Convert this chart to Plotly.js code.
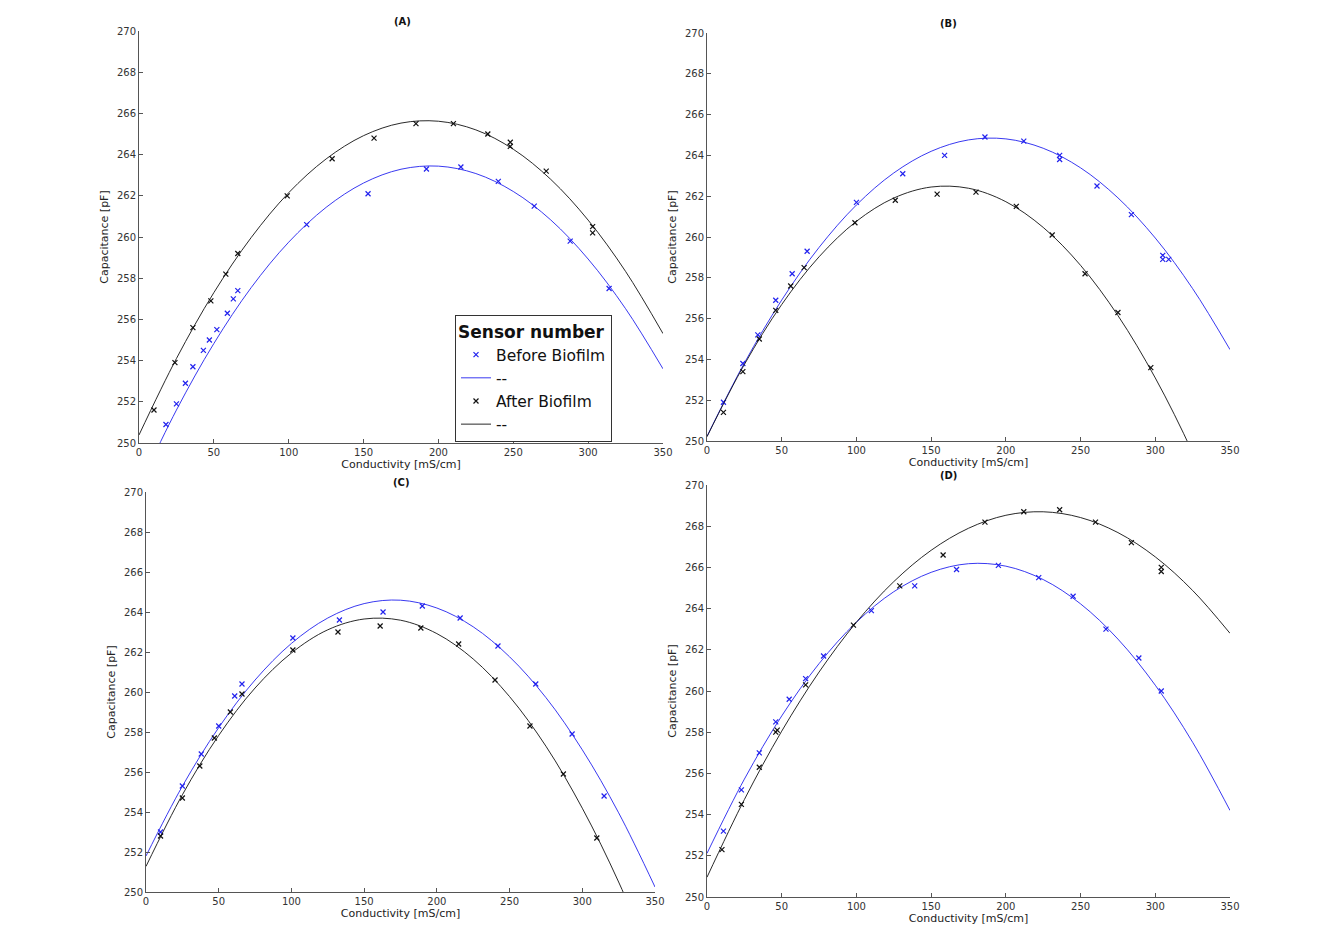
<!DOCTYPE html>
<html>
<head>
<meta charset="utf-8">
<script src="https://cdn.plot.ly/plotly-3.0.1.min.js"></script>
<style>body{margin:0;background:#fff}#chart{width:1340px;height:944px}</style>
</head>
<body>
<div id="chart"></div>
<script>
// fitted curve samples
const curveX = [0, 25, 50, 75, 100, 125, 150, 175, 200, 225, 250, 275, 300, 325, 350];

const aBeforeFit = [247.86, 251.60, 254.83, 257.55, 259.75, 261.44, 262.62, 263.29, 263.44, 263.08, 262.21, 260.83, 258.93, 256.52, 253.60];
const aAfterFit = [250.39, 254.10, 257.30, 259.98, 262.15, 263.79, 264.92, 265.53, 265.62, 265.20, 264.26, 262.80, 260.82, 258.33, 255.31];
const bBeforeFit = [250.23, 253.82, 256.91, 259.49, 261.57, 263.14, 264.20, 264.76, 264.81, 264.35, 263.39, 261.92, 259.95, 257.47, 254.48];
const bAfterFit = [250.21, 253.75, 256.69, 259.03, 260.77, 261.91, 262.45, 262.39, 261.73, 260.47, 258.61, 256.15, 253.09, 249.43, 245.17];
const cBeforeFit = [251.80, 255.29, 258.22, 260.60, 262.43, 263.70, 264.42, 264.59, 264.20, 263.26, 261.76, 259.72, 257.11, 253.96, 250.25];
const cAfterFit = [251.28, 254.86, 257.83, 260.20, 261.95, 263.11, 263.65, 263.59, 262.92, 261.65, 259.77, 257.29, 254.19, 250.50, 246.19];
const dBeforeFit = [252.12, 255.72, 258.79, 261.33, 263.34, 264.82, 265.76, 266.18, 266.06, 265.41, 264.23, 262.52, 260.28, 257.51, 254.20];
const dAfterFit = [250.96, 254.73, 258.05, 260.92, 263.34, 265.31, 266.83, 267.90, 268.53, 268.70, 268.42, 267.69, 266.51, 264.88, 262.80];

// measured points
const aBeforeX = [18, 25, 31, 36, 43, 47, 52, 59, 63, 66, 112, 153, 192, 215, 240, 264, 288, 314];
const aBeforeY = [250.9, 251.9, 252.9, 253.7, 254.5, 255.0, 255.5, 256.3, 257.0, 257.4, 260.6, 262.1, 263.3, 263.4, 262.7, 261.5, 259.8, 257.5];
const aAfterX = [10, 24, 36, 48, 58, 66, 99, 129, 157, 185, 210, 233, 248, 248, 272, 303, 303];
const aAfterY = [251.6, 253.9, 255.6, 256.9, 258.2, 259.2, 262.0, 263.8, 264.8, 265.5, 265.5, 265.0, 264.6, 264.4, 263.2, 260.5, 260.2];

const bBeforeX = [11, 24, 34, 46, 57, 67, 100, 131, 159, 186, 212, 236, 236, 261, 284, 305, 305, 309];
const bBeforeY = [251.9, 253.8, 255.2, 256.9, 258.2, 259.3, 261.7, 263.1, 264.0, 264.9, 264.7, 264.0, 263.8, 262.5, 261.1, 259.1, 258.9, 258.9];
const bAfterX = [11, 24, 35, 46, 56, 65, 99, 126, 154, 180, 207, 231, 253, 275, 297];
const bAfterY = [251.4, 253.4, 255.0, 256.4, 257.6, 258.5, 260.7, 261.8, 262.1, 262.2, 261.5, 260.1, 258.2, 256.3, 253.6];

const cBeforeX = [10, 25, 38, 50, 61, 66, 101, 133, 163, 190, 216, 242, 268, 293, 315];
const cBeforeY = [253.0, 255.3, 256.9, 258.3, 259.8, 260.4, 262.7, 263.6, 264.0, 264.3, 263.7, 262.3, 260.4, 257.9, 254.8];
const cAfterX = [10, 25, 37, 47, 58, 66, 101, 132, 161, 189, 215, 240, 264, 287, 310];
const cAfterY = [252.8, 254.7, 256.3, 257.7, 259.0, 259.9, 262.1, 263.0, 263.3, 263.2, 262.4, 260.6, 258.3, 255.9, 252.7];

const dBeforeX = [11, 23, 35, 46, 55, 66, 78, 110, 139, 167, 195, 222, 245, 267, 289, 304];
const dBeforeY = [253.2, 255.2, 257.0, 258.5, 259.6, 260.6, 261.7, 263.9, 265.1, 265.9, 266.1, 265.5, 264.6, 263.0, 261.6, 260.0];
const dAfterX = [10, 23, 35, 46, 47, 66, 98, 129, 158, 186, 212, 236, 260, 284, 304, 304];
const dAfterY = [252.3, 254.5, 256.3, 258.0, 258.1, 260.3, 263.2, 265.1, 266.6, 268.2, 268.7, 268.8, 268.2, 267.2, 266.0, 265.8];

const xTicks = [0, 50, 100, 150, 200, 250, 300, 350];
const yTicks = [250, 252, 254, 256, 258, 260, 262, 264, 266, 268, 270];
const panelTitles = ['(A)', '(B)', '(C)', '(D)'];

const BLUE = '#2222ee', BLACK = '#111111';
const W = 1340, H = 944;

const panels = [
  { bx: aBeforeX, by: aBeforeY, ax: aAfterX, ay: aAfterY, bf: aBeforeFit, af: aAfterFit, box: [139, 663, 31, 443] },
  { bx: bBeforeX, by: bBeforeY, ax: bAfterX, ay: bAfterY, bf: bBeforeFit, af: bAfterFit, box: [707, 1230, 33, 441] },
  { bx: cBeforeX, by: cBeforeY, ax: cAfterX, ay: cAfterY, bf: cBeforeFit, af: cAfterFit, box: [146, 655, 492, 892] },
  { bx: dBeforeX, by: dBeforeY, ax: dAfterX, ay: dAfterY, bf: dBeforeFit, af: dAfterFit, box: [707, 1230, 485, 897] }
];

const traces = [];
const layout = {
  width: W, height: H, margin: { l: 0, r: 0, t: 0, b: 0 },
  paper_bgcolor: '#fff', plot_bgcolor: '#fff',
  font: { family: 'DejaVu Sans, sans-serif', size: 10, color: '#222' },
  showlegend: true,
  legend: {
    x: 455 / W, y: 1 - 315 / H, xanchor: 'left', yanchor: 'top',
    bgcolor: '#fff', bordercolor: '#333', borderwidth: 1,
    font: { size: 15.5, color: '#111' },
    title: { text: '<b>Sensor number</b>', font: { size: 17 } },
    tracegroupgap: 0
  },
  annotations: []
};

panels.forEach((p, i) => {
  const n = i === 0 ? '' : String(i + 1);
  const xa = 'x' + n, ya = 'y' + n;
  const leg = i === 0;
  traces.push({ x: p.bx, y: p.by, xaxis: xa, yaxis: ya, mode: 'markers', type: 'scatter', name: 'Before Biofilm', showlegend: leg,
    marker: { symbol: 'x-thin', size: 5, line: { width: 1.2, color: BLUE }, color: BLUE } });
  traces.push({ x: curveX, y: p.bf, xaxis: xa, yaxis: ya, mode: 'lines', type: 'scatter', name: '--', showlegend: leg,
    line: { color: BLUE, width: 0.9, shape: 'spline' } });
  traces.push({ x: p.ax, y: p.ay, xaxis: xa, yaxis: ya, mode: 'markers', type: 'scatter', name: 'After Biofilm', showlegend: leg,
    marker: { symbol: 'x-thin', size: 5, line: { width: 1.2, color: BLACK }, color: BLACK } });
  traces.push({ x: curveX, y: p.af, xaxis: xa, yaxis: ya, mode: 'lines', type: 'scatter', name: '--', showlegend: leg,
    line: { color: BLACK, width: 0.9, shape: 'spline' } });

  const [x0, x1, yt, yb] = p.box;
  const common = { showgrid: false, zeroline: false, showline: true, linecolor: '#555', linewidth: 1,
    ticks: 'inside', ticklen: 4, tickcolor: '#555', tickfont: { size: 10, color: '#333' } };
  layout['xaxis' + n] = Object.assign({}, common, {
    domain: [x0 / W, x1 / W], anchor: ya, range: [0, 350], tickvals: xTicks,
    title: { text: 'Conductivity [mS/cm]', font: { size: 11 }, standoff: 2 }
  });
  layout['yaxis' + n] = Object.assign({}, common, {
    domain: [1 - yb / H, 1 - yt / H], anchor: xa, range: [250, 270], tickvals: yTicks,
    title: { text: 'Capacitance [pF]', font: { size: 11 }, standoff: 6 }
  });
  layout.annotations.push({ text: '<b>' + panelTitles[i] + '</b>', xref: 'paper', yref: 'paper',
    x: (x0 + x1) / 2 / W - 0.007, y: 1 - (yt - 2) / H, yanchor: 'bottom', showarrow: false, font: { size: 10, color: '#111' } });
});

Plotly.newPlot('chart', traces, layout, { displayModeBar: false, responsive: false });
</script>
</body>
</html>
